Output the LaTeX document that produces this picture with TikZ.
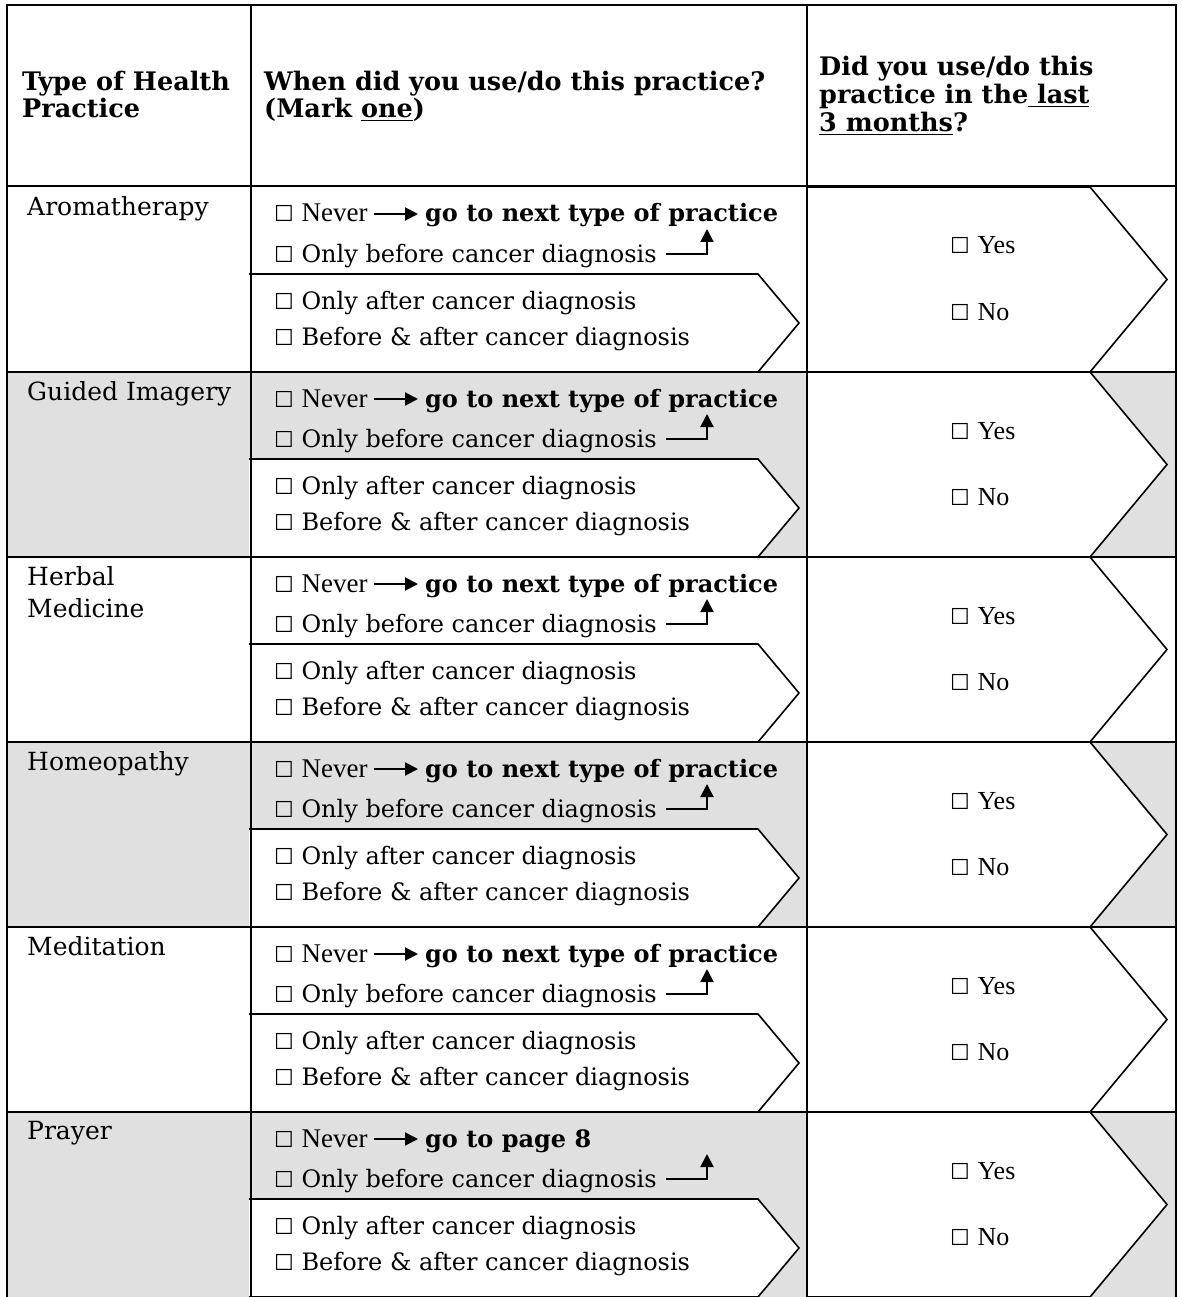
\documentclass[tikz,border=0pt]{standalone}
\usepackage{fontspec}
\setmainfont{DejaVu Serif}
\newfontfamily\timesfont{Liberation Serif}
\newfontfamily\boxfont{DejaVu Sans}
\usetikzlibrary{arrows.meta}
\definecolor{rowgray}{RGB}{224,224,224}
\newcommand{\bx}{{\boxfont\fontsize{22}{22}\selectfont ☐}}
\tikzstyle{grid}=[line width=2.8pt]
\tikzstyle{pent}=[line width=1.6pt,fill=white]
\tikzstyle{hd}=[anchor=base west,inner sep=0pt,font=\fontsize{25.5}{30}\selectfont\bfseries]
\tikzstyle{nm}=[anchor=north west,inner sep=0pt,align=left,font=\fontsize{25}{32}\selectfont]
\tikzstyle{txt}=[anchor=base west,inner sep=0pt,text height=17pt,text depth=1pt,font=\fontsize{24}{28}\selectfont]
\tikzstyle{jump}=[line width=2pt,-{Triangle[length=13pt,width=13pt]}]

\begin{document}
\begin{tikzpicture}[x=1pt,y=-1pt]
\useasboundingbox (0,0) rectangle (1182,1297);
\clip (0,0) rectangle (1182,1297);

% header
\node[hd] (h1a) at (22,91) {Type of Health};
\node[hd] (h1b) at (22,118) {Practice};
\node[hd] (h2a) at (264,91) {When did you use/do this practice?};
\node[hd] (h2b) at (264,118) {(Mark \underline{one})};
\node[hd] (h3a) at (819,76) {Did you use/do this};
\node[hd] (h3b) at (819,104) {practice in the\underline{ last}};
\node[hd] (h3c) at (819,132) {\underline{3 months}?};

% one row per practice
\foreach \r/\nm/\go/\bg in {0/Aromatherapy/go to next type of practice/white,
    1/Guided Imagery/go to next type of practice/rowgray,
    2/{Herbal\\Medicine}/go to next type of practice/white,
    3/Homeopathy/go to next type of practice/rowgray,
    4/Meditation/go to next type of practice/white,
    5/Prayer/go to page 8/rowgray}{
  \pgfmathsetmacro\T{187+185*\r}
  \fill[\bg] (7,\T) rectangle (1176,\T+185);
  \draw[pent] (249,\T+87) -- (758,\T+87) -- (799,\T+136) -- (758,\T+185) -- (249,\T+185);
  \draw[pent] (807,\T) -- (1090,\T) -- (1167,\T+92.5) -- (1090,\T+185) -- (807,\T+185);
  \node[nm] (n\r) at (27,\T+9) {\nm};
  \node[txt] (nv\r) at (274,\T+35) {\bx\ {\timesfont\fontsize{27}{28}\selectfont Never}};
  \node[txt,font=\fontsize{24}{28}\selectfont\bfseries] (go\r) at (425,\T+35) {\go};
  \node[txt] (bf\r) at (274,\T+75) {\bx\ Only before cancer diagnosis};
  \node[txt] (af\r) at (274,\T+122) {\bx\ Only after cancer diagnosis};
  \node[txt] (ba\r) at (274,\T+158) {\bx\ Before \& after cancer diagnosis};
  \node[txt] (yes\r) at (950,\T+67) {\bx\ {\timesfont\fontsize{26}{28}\selectfont Yes}};
  \node[txt] (no\r) at (950,\T+133) {\bx\ {\timesfont\fontsize{26}{28}\selectfont No}};
  \coordinate (up\r) at (707,\T+42);
  \draw[jump,shorten <=6pt,shorten >=7pt] (nv\r.east) -- (go\r.west);
  \draw[jump] ([xshift=9pt]bf\r.east) -| (up\r);
}

% table lines
\draw[grid] (7,5) rectangle (1176,1310);
\draw[grid] (251,5) -- (251,1297);
\draw[grid] (807,5) -- (807,1297);
\foreach \y in {186,372,557,742,927,1112}
  \draw[grid] (7,\y) -- (1176,\y);
\end{tikzpicture}
\end{document}
